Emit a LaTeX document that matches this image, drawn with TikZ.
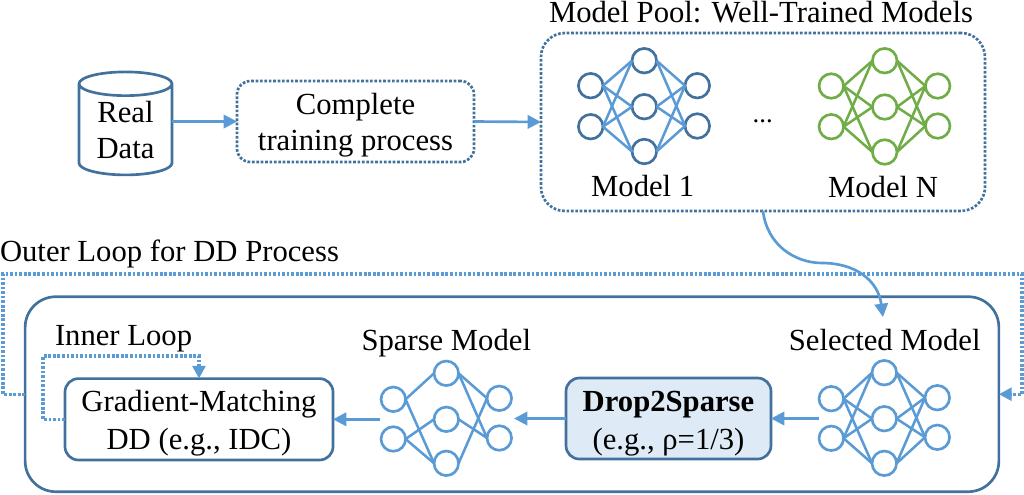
\documentclass[tikz,border=0pt]{standalone}
\usepackage{fontspec}
\setmainfont{Liberation Serif}
\usetikzlibrary{arrows.meta,shapes.geometric}
\definecolor{darkblue}{HTML}{41719C}
\definecolor{lineblue}{HTML}{5B9BD5}
\definecolor{netgreen}{HTML}{70AD47}
\definecolor{dropfill}{HTML}{DEEBF7}
\newcommand{\tl}[1]{\rule{0pt}{#1}}
\tikzset{
  x=0.75pt,y=-0.75pt,
  txt/.style={font=\fontsize{23}{27.5}\selectfont,inner sep=0pt,outer sep=0pt,text=black},
  lab/.style={txt,anchor=base},
  labl/.style={txt,anchor=base west},
  boxbase/.style={txt,rectangle,align=center,outer sep=0pt,inner sep=0pt},
  dotbox/.style={boxbase,draw=darkblue,line width=2pt,dash pattern=on 2pt off 1.3pt,rounded corners=10pt},
  solidbox/.style={boxbase,draw=darkblue,line width=2pt,rounded corners=10pt},
  arrowline/.style={draw=lineblue,line width=2pt,-{Triangle[length=10pt,width=10pt]}},
  loopline/.style={draw=lineblue,line width=2.4pt,dash pattern=on 2pt off 1.4pt,-{Triangle[length=9.5pt,width=9.5pt]}},
  neuron/.style={circle,draw=#1,line width=2pt,minimum size=18.4pt,inner sep=0pt,outer sep=0pt},
  wire/.style={draw=#1,line width=1.9pt},
}
\begin{document}
\begin{tikzpicture}
\useasboundingbox (0,0) rectangle (1024,494);
% top row
\node[txt,cylinder,shape border rotate=90,aspect=0.41,draw=darkblue,line width=2pt,align=center,
      minimum width=69.75pt,minimum height=77.25pt] (rd) at (125.5,130) {Real\\Data};
\node[dotbox,minimum width=177.75pt,minimum height=60.75pt] (tp) at (355.5,121.5) {\tl{21.3pt}Complete\\training process};
\node[dotbox,rounded corners=18pt,minimum width=333pt,minimum height=133.5pt] (pool) at (763,122) {};
\node[lab] (pooltitle) at (761,22) {Model Pool: Well-Trained Models};
\node[lab] (m1lab) at (642.7,196) {Model 1};
\node[lab] (mnlab) at (883,197.3) {Model N};
\node[lab,font=\fontsize{20}{24}\selectfont] (dots) at (762.7,122) {...};
% networks
\foreach \n/\x/\y in {a1/590.7/85.7,a2/590.7/126.7,a3/644.3/60.7,a4/644.3/106.7,a5/644.3/151.5,a6/697.3/85.7,a7/697.3/126}
  \node[neuron=darkblue] (\n) at (\x,\y) {};
\foreach \n/\x/\y in {b1/831.3/86,b2/831.3/126.7,b3/884.7/60.7,b4/884.7/107,b5/884.7/152,b6/937.7/86,b7/937.7/126}
  \node[neuron=netgreen] (\n) at (\x,\y) {};
\foreach \n/\x/\y in {c1/831.3/398.7,c2/831.3/438.3,c3/884.3/372.7,c4/884.3/418.7,c5/884.3/463.3,c6/937.3/397.7,c7/937.3/437.3}
  \node[neuron=lineblue] (\n) at (\x,\y) {};
\foreach \n/\x/\y in {d1/393.3/399.3,d2/393.3/439,d3/446.3/373.3,d4/446.3/419.3,d5/446.3/463.3,d6/499.3/398.3,d7/499.3/438}
  \node[neuron=lineblue] (\n) at (\x,\y) {};
\foreach \p/\c in {a/lineblue,b/netgreen,c/lineblue}{
  \foreach \l in {1,2}\foreach \m in {3,4,5}
    \draw[wire=\c] (\p\l.east) -- (\p\m.west);
  \foreach \m in {3,4,5}\foreach \r in {6,7}
    \draw[wire=\c] (\p\m.east) -- (\p\r.west);
}
\foreach \l/\m in {1/3,1/5,2/4,2/5}
  \draw[wire=lineblue] (d\l.east) -- (d\m.west);
\foreach \m/\r in {3/6,3/7,4/7,5/6}
  \draw[wire=lineblue] (d\m.east) -- (d\r.west);
% bottom
\node[solidbox,rounded corners=23pt,minimum width=730.3pt,minimum height=146.25pt] (outer) at (512,394.2) {};
\node[solidbox,minimum width=201pt,minimum height=61pt] (gm) at (199,419.3) {\tl{21.8pt}Gradient-Matching\\[0.7pt]DD (e.g., IDC)};
\node[solidbox,fill=dropfill,minimum width=153.75pt,minimum height=60.75pt] (drop) at (668.5,418.5) {\tl{22.3pt}\textbf{Drop2Sparse}\\[1pt](e.g., ρ=1/3)};
\node[labl] (outerlab) at (0,261.7) {Outer Loop for DD Process};
\node[labl] (innerlab) at (55,345) {Inner Loop};
\node[lab] (sparselab) at (446.3,350.7) {Sparse Model};
\node[lab] (sellab) at (884.7,350.7) {Selected Model};
% named free ends
\coordinate (ol1) at (3,394.2);
\coordinate (ol2) at (3,274);
\coordinate (ol3) at (1022,274);
\coordinate (ol4) at (1022,394.2);
\coordinate (il1) at (43,419.3);
\coordinate (il2) at (43,356);
\coordinate (il3) at (199,356);
\coordinate (cv) at (822,263);
\coordinate (cvend) at (883,317);
\coordinate (selout) at (818.7,418.5);
\coordinate (sparsein) at (514,418.5);
\coordinate (sparseout) at (380,419.3);
% connectors
\draw[arrowline] (rd.east |- tp.west) -- (tp.west);
\draw[arrowline] (tp.east) -- (pool.west);
\draw[arrowline] (pool.south) .. controls (767,245) and (795,263) .. (cv) .. controls (855,263) and (878,280) .. (cvend);
\draw[arrowline] (selout) -- (drop.east);
\draw[arrowline] (drop.west) -- (sparsein);
\draw[arrowline] (sparseout) -- (gm.east);
\draw[loopline] (outer.west) -- (ol1) -- (ol2) -- (ol3) -- (ol4) -- (outer.east);
\draw[loopline] (gm.west) -- (il1) -- (il2) -- (il3) -- (gm.north);
\end{tikzpicture}
\end{document}
